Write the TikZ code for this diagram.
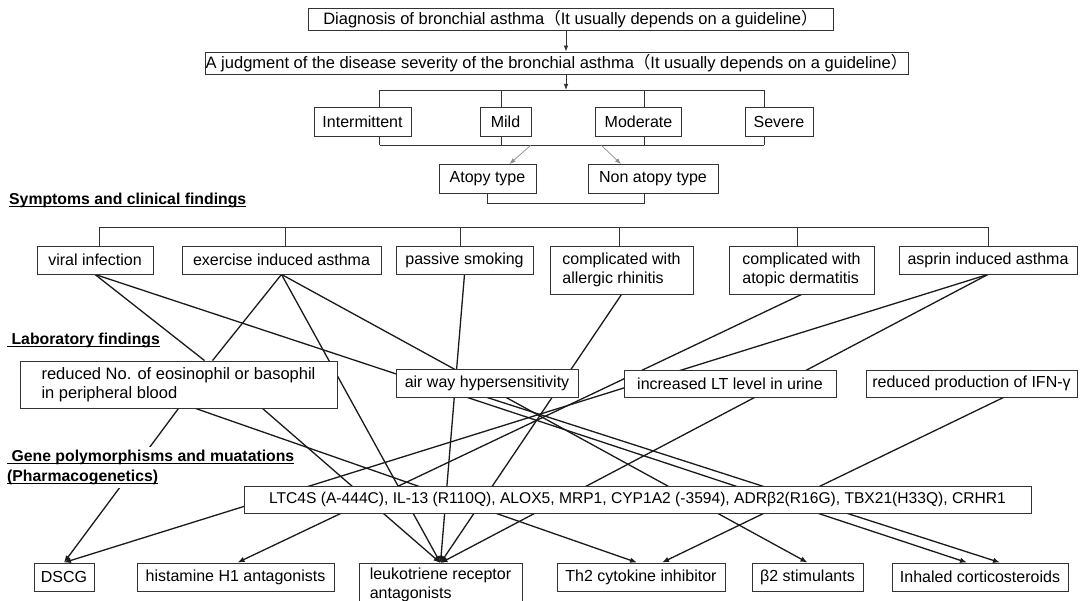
\documentclass[tikz,border=0pt]{standalone}
\usepackage{fontspec}
\setmainfont{Liberation Sans}
\newfontfamily\cjkfont{Noto Sans CJK JP}
\usetikzlibrary{arrows.meta, positioning, backgrounds}
\definecolor{boxgray}{HTML}{333333}
\definecolor{linegray}{HTML}{1A1A1A}
\definecolor{softgray}{HTML}{8C8C8C}
\newcommand{\lpar}{{\cjkfont （}}
\newcommand{\rpar}{{\cjkfont ）}}
\newcommand{\uln}[1]{\setbox0\hbox{#1}\rlap{\rule[-2.2pt]{\wd0}{1.1pt}}\box0}

\begin{document}
\begin{tikzpicture}[x=1pt, y=-1pt,
  box/.style={rectangle, draw=boxgray, line width=0.9pt, fill=white, inner sep=0pt, minimum height=28pt, align=left, font=\fontsize{16}{19}\selectfont},
  topbox/.style={box, line width=0.8pt, minimum height=22pt, font=\fontsize{16.5}{19}\selectfont},
  head/.style={fill=white, inner xsep=1pt, inner ysep=3pt, align=left, font=\bfseries\fontsize{15.8}{20}\selectfont},
  link/.style={draw=linegray, line width=1.3pt},
  arrow/.style={link, -{Latex[length=7pt,width=5.5pt]}},
  thinarrow/.style={draw=boxgray, line width=0.8pt, -{Latex[length=6pt,width=4.5pt]}},
  grayarrow/.style={draw=softgray, line width=0.7pt, -{Latex[length=6pt,width=4.5pt]}},
  bracket/.style={draw=boxgray, line width=0.8pt}
]
  \useasboundingbox (0,0) rectangle (1080,601);

  \node[topbox, minimum width=525pt] (diag) at (570.5,19) {Diagnosis of bronchial asthma\lpar It usually depends on a guideline\rpar};
  \node[topbox, minimum width=703pt] (judg) at (556.5,63) {A judgment of the disease severity of the bronchial asthma\lpar It usually depends on a guideline\rpar};

  \node[box, minimum width=97pt, minimum height=29pt] (inter) at (362.5,122) {Intermittent};
  \node[box, minimum width=51pt, minimum height=29pt] (mild) at (505.5,122) {Mild};
  \node[box, minimum width=86pt, minimum height=29pt] (moder) at (638.5,122) {Moderate};
  \node[box, minimum width=68pt, minimum height=29pt] (severe) at (779,122) {Severe};

  \node[box, minimum width=97pt, minimum height=29pt] (atopy) at (487.5,179) {Atopy type};
  \node[box, minimum width=130pt, minimum height=29pt] (nonatopy) at (653,179) {Non atopy type};

  \coordinate (sevtop) at (566,90);
  \coordinate (sevlow) at (566,145);
  \coordinate (atlow) at (566,203);
  \coordinate (symbar) at (540,227);

  \draw[thinarrow] (diag.south -| sevtop) -- (judg.north -| sevtop);
  \draw[thinarrow] (judg.south -| sevtop) -- (sevtop);
  \draw[bracket] ([xshift=17pt]inter.north |- sevtop) -- ([xshift=-15pt]severe.north |- sevtop);
  \draw[bracket] ([xshift=17pt]inter.south |- sevlow) -- ([xshift=-15pt]severe.south |- sevlow);
  \foreach \n/\dx in {inter/17,mild/-4,moder/6,severe/-15} {
    \draw[bracket] ([xshift=\dx pt]\n.north) -- ([xshift=\dx pt]\n.north |- sevtop);
    \draw[bracket] ([xshift=\dx pt]\n.south) -- ([xshift=\dx pt]\n.south |- sevlow);
  }
  \draw[grayarrow] ([xshift=-35pt]sevlow) -- ([xshift=22pt]atopy.north);
  \draw[grayarrow] ([xshift=35pt]sevlow) -- ([xshift=-32pt]nonatopy.north);
  \draw[bracket] (atopy.south) -- (atopy.south |- atlow) -- ([xshift=-9pt]nonatopy.south |- atlow) -- ([xshift=-9pt]nonatopy.south);

  \node[head, anchor=base west] (symhead) at (8,205) {\uln{Symptoms and clinical findings}};

  \node[box, minimum width=116pt] (viral) at (95,260) {viral infection};
  \node[box, minimum width=199pt] (exercise) at (281.5,260) {exercise induced asthma};
  \node[box, minimum width=137pt] (passive) at (464.5,260) {passive smoking};
  \node[box, minimum width=143pt, minimum height=48pt] (allergic) at (621.5,270) {complicated with\\allergic rhinitis};
  \node[box, minimum width=145pt, minimum height=48pt] (atopic) at (801.5,270) {complicated with\\atopic dermatitis};
  \node[box, minimum width=178pt] (asprin) at (988,260) {asprin induced asthma};

  \draw[bracket] ([xshift=4pt]viral.north |- symbar) -- (asprin.north |- symbar);
  \foreach \n/\dx in {viral/4,exercise/4,passive/-4,allergic/-2,atopic/-4,asprin/0}
    \draw[bracket] ([xshift=\dx pt]\n.north) -- ([xshift=\dx pt]\n.north |- symbar);

  \node[head, anchor=base west] (labhead) at (6,345) {\uln{\ Laboratory findings}};

  \node[box, minimum width=317pt, minimum height=47pt, font=\fontsize{16.5}{19}\selectfont] (reduced) at (178.5,384.5) {reduced No. of eosinophil or basophil\\in peripheral blood};
  \node[box, minimum width=182pt] (airway) at (487,383) {air way hypersensitivity};
  \node[box, minimum width=212pt, minimum height=27pt] (lt) at (730,383.5) {increased LT level in urine};
  \node[box, minimum width=211pt, minimum height=27pt] (ifn) at (971.5,383.5) {reduced production of IFN-γ};

  \node[head, anchor=north west] (genehead) at (6,447) {\uln{\ Gene polymorphisms and muatations}\\\uln{(Pharmacogenetics)}};

  \node[box, minimum width=787pt, minimum height=27pt, font=\fontsize{15.6}{19}\selectfont] (gene) at (637.5,499.5) {LTC4S (A-444C), IL-13 (R110Q), ALOX5, MRP1, CYP1A2 (-3594), ADRβ2(R16G), TBX21(H33Q), CRHR1};

  \node[box, minimum width=60pt] (dscg) at (64,577) {DSCG};
  \node[box, minimum width=197pt] (hist) at (235.5,577) {histamine H1 antagonists};
  \node[box, minimum width=163pt, inner ysep=4pt, anchor=north] (leuk) at (440.5,563) {leukotriene receptor\\antagonists};
  \node[box, minimum width=168pt] (th2) at (641,577) {Th2 cytokine inhibitor};
  \node[box, minimum width=111pt] (beta) at (807.5,577) {β2 stimulants};
  \node[box, minimum width=176pt] (ics) at (980,577) {Inhaled corticosteroids};

  \begin{scope}[on background layer]
    \fill[white] (0,0) rectangle (1080,601);
    \draw[link] (viral.south) -- ([xshift=26pt]reduced.north);
    \draw[arrow] (viral.south) -- ([xshift=-13pt]ics.north);
    \draw[link] (exercise.south) -- ([xshift=34pt]reduced.north);
    \draw[arrow] (exercise.south) -- (leuk.north);
    \draw[arrow] (exercise.south) -- (beta.north);
    \draw[arrow] (passive.south) -- (leuk.north);
    \draw[arrow] (allergic.south) -- (leuk.north);
    \draw[arrow] (atopic.south) -- ([xshift=2pt]hist.north);
    \draw[arrow] (asprin.south) -- (dscg.north);
    \draw[arrow] (asprin.south) -- (leuk.north);
    \draw[arrow] (reduced.south) -- (dscg.north);
    \draw[arrow] ([xshift=17pt]reduced.south) -- ([xshift=-4pt]th2.north);
    \draw[arrow] ([xshift=84pt]reduced.south) -- (leuk.north);
    \draw[arrow] (airway.south) -- ([xshift=20pt]ics.north);
    \draw[arrow] ([xshift=32pt]ifn.south) -- ([xshift=21pt]th2.north);
  \end{scope}
\end{tikzpicture}
\end{document}
